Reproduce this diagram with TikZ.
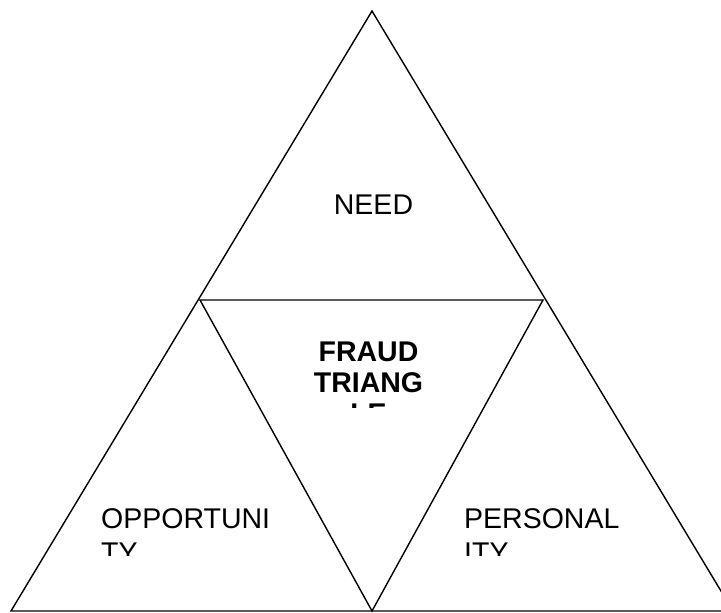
\documentclass[tikz,border=0pt]{standalone}
\usepackage{fontspec}
\setmainfont{Liberation Sans}
\usetikzlibrary{positioning,calc}
\tikzset{
	edge/.style={draw, line width=1.4pt},
	word/.style={inner sep=0pt, font=\fontsize{28.5}{34}\selectfont},
	boldword/.style={inner sep=0pt, align=center, font=\fontsize{28.5}{31}\selectfont\bfseries}
}

\begin{document}
\begin{tikzpicture}[x=1pt, y=-1pt]
	\clip (0,0) rectangle (721,613);
	
	%% -- Outer triangle corners
	\coordinate (apex) at (372,11);
	\coordinate (bl) at (11,611);
	\coordinate (br) at (733,611);
	
	%% -- Inner (upside-down) triangle corners
	\coordinate (il) at (200,300);
	\coordinate (ir) at (543,300);
	\coordinate (ib) at (372,611);
	
	\draw[edge] (apex) -- (bl) -- (br) -- cycle;
	\draw[edge] (il) -- (ir) -- (ib) -- cycle;
	
	%% -- Top part
	\node[word, anchor=base] (need) at (373.5,214) {NEED};
	
	%% -- Centre, text box cut off at the bottom
	\begin{scope}
		\clip (250,330) rectangle (490,407.5);
		\node[boldword, anchor=north] (fraud) at (368.5,342) {FRAUD\\TRIANG\\LE};
	\end{scope}
	
	%% -- Bottom left and bottom right
	\begin{scope}
		\clip (90,490) rectangle (300,555);
		\node[word, align=left, anchor=north west] (opp) at (101,508) {OPPORTUNI\\TY};
	\end{scope}
	\begin{scope}
		\clip (455,490) rectangle (690,555);
		\node[word, align=left, anchor=north west] (pers) at (464,508) {PERSONAL\\ITY};
	\end{scope}
	
\end{tikzpicture}
\end{document}
